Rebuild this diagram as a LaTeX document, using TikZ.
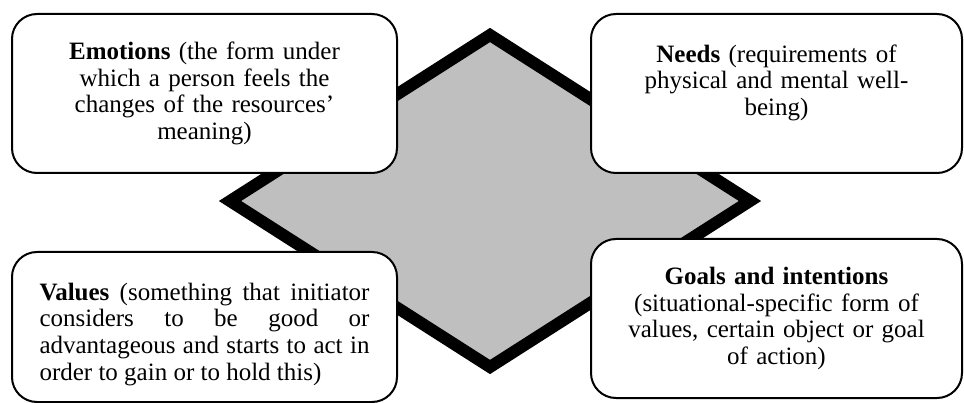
\documentclass[tikz,border=0pt]{standalone}
\usepackage{fontspec}
\setmainfont{Liberation Serif}
\usetikzlibrary{positioning}

\begin{document}
\begin{tikzpicture}[x=1pt,y=-1pt,
		infobox/.style={rectangle, rounded corners=25pt, draw=black, line width=2pt, fill=white, inner sep=0pt, minimum height=159pt, font=\fontsize{25}{26.7}\selectfont},
		core/.style={draw=black, line width=12pt, fill=black!25, line join=miter}
		]
		\useasboundingbox (0,0) rectangle (964,403);
		
		% Diamond
		\coordinate (Top) at (490,35);
		\coordinate (Right) at (750,201);
		\coordinate (Bottom) at (490,367);
		\coordinate (Left) at (230,201);
		\draw[core] (Top) -- (Right) -- (Bottom) -- (Left) -- cycle;
		
		% Nodes
		\node[infobox, minimum width=385pt, text width=335pt, align=center] (Emotions) at (204.5,93.5) {\textbf{Emotions} (the form under\\ which a person feels the\\ changes of the resources'\\ meaning)};
		\node[infobox, minimum width=371pt, text width=325pt, align=center] (Needs) at (776.5,93.5) {\textbf{Needs} (requirements of\\ physical and mental well-\\ being)\\ \mbox{}};
		\node[infobox, minimum width=385pt, minimum height=150pt, text width=330pt, align=justify] (Values) at (204.5,327) {\rule{0pt}{32pt}\textbf{Values} (something that initiator\linebreak considers to be good or\linebreak advantageous and starts to act in\linebreak order to gain or to hold this)};
		\node[infobox, minimum width=371pt, text width=325pt, align=center] (Goals) at (776.5,318.5) {\textbf{Goals and intentions}\\ (situational-specific form of\\ values, certain object or goal\\ of action)};
\end{tikzpicture}
\end{document}
